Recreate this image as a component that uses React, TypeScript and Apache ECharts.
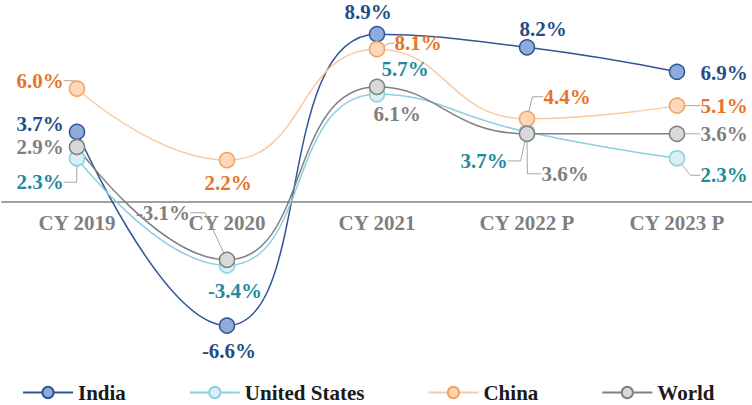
import React, { useEffect, useRef } from "react";
import * as echarts from "echarts";

const categories = ["CY 2019", "CY 2020", "CY 2021", "CY 2022 P", "CY 2023 P"];
const seriesNames = ["India", "United States", "China", "World"];
const india = [3.7, -6.6, 8.9, 8.2, 6.9];
const unitedStates = [2.3, -3.4, 5.7, 3.7, 2.3];
const china = [6.0, 2.2, 8.1, 4.4, 5.1];
const world = [2.9, -3.1, 6.1, 3.6, 3.6];

const SERIF = "'Liberation Serif', 'Times New Roman', serif";

type Cfg = {
  line: string;
  fill: string;
  border: string;
  text: string;
  off: number[][];
  guide: boolean[];
  len2: number[];
};

const styles: Cfg[] = [
  {
    line: "#2f5597",
    fill: "#8faadc",
    border: "#2f5597",
    text: "#1f4e89",
    off: [[-37, -8], [2, 25], [-9, -22], [16, -18], [47, 1]],
    guide: [false, false, false, false, false],
    len2: [0, 0, 0, 0, 0],
  },
  {
    line: "#8dd0e0",
    fill: "#d7eff6",
    border: "#8dcfdf",
    text: "#1f8a9c",
    off: [[-37, 24], [8, 26], [28, -25], [-43, 29], [47, 17]],
    guide: [true, false, false, true, true],
    len2: [13, 0, 0, 13, 10],
  },
  {
    line: "#fbcba0",
    fill: "#fdd8bd",
    border: "#f4a15c",
    text: "#e8732a",
    off: [[-37, -8], [1, 23], [41, -6], [40, -22], [47, 0]],
    guide: [true, false, true, true, true],
    len2: [10, 0, 5, 11, 8],
  },
  {
    line: "#808080",
    fill: "#d9d9d9",
    border: "#7f7f7f",
    text: "#7f7f7f",
    off: [[-37, 0], [-64, -47], [20, 27], [38, 40], [47, 0]],
    guide: [false, true, false, true, true],
    len2: [0, 15, 0, 14, 8],
  },
];

const allValues = [india, unitedStates, china, world];

function makeSeries(name: string, values: number[], cfg: Cfg) {
  return {
    name,
    type: "line",
    smooth: 0.5,
    clip: false,
    symbol: "circle",
    symbolSize: 15,
    color: cfg.fill,
    lineStyle: { color: cfg.line, width: 1.5 },
    itemStyle: { color: cfg.fill, borderColor: cfg.border, borderWidth: 1.5 },
    data: values.map((v, i) => ({
      value: v,
      labelLine: { show: cfg.guide[i], length2: cfg.len2[i] },
    })),
    label: {
      show: true,
      position: "inside",
      formatter: (p: any) => Number(p.value).toFixed(1) + "%",
      color: cfg.text,
      fontSize: 21,
      fontWeight: "bold",
      fontFamily: SERIF,
      textBorderWidth: 0,
      textBorderColor: "transparent",
    },
    labelLayout: (p: any) => ({
      dx: cfg.off[p.dataIndex][0],
      dy: cfg.off[p.dataIndex][1],
    }),
    labelLine: {
      show: false,
      lineStyle: { color: "#a6a6a6", width: 1 },
    },
    emphasis: { disabled: true },
  };
}

export default function App() {
  const ref = useRef<HTMLDivElement>(null);
  useEffect(() => {
    document.body.style.margin = "0";
    if (!ref.current) return;
    const chart = echarts.init(ref.current, undefined, { renderer: "svg" });
    chart.setOption({
      animation: false,
      backgroundColor: "#ffffff",
      grid: {
        left: 2,
        right: 0,
        top: 13.5,
        bottom: 203.5,
        containLabel: false,
        outerBoundsMode: "none",
      },
      legend: {
        data: seriesNames,
        left: 17,
        top: 377,
        itemWidth: 50,
        itemHeight: 14,
        itemGap: 63,
        textStyle: {
          fontSize: 21,
          fontWeight: "bold",
          fontFamily: SERIF,
          color: "#1a1a1a",
        },
      },
      xAxis: {
        type: "category",
        data: categories,
        axisLine: { onZero: false, lineStyle: { color: "#a0a0a0", width: 2 } },
        axisTick: { show: false },
        axisLabel: {
          color: "#7f7f7f",
          fontSize: 21,
          fontWeight: "bold",
          fontFamily: SERIF,
          margin: 11,
        },
        splitLine: { show: false },
      },
      yAxis: {
        type: "value",
        min: 0,
        max: 10,
        show: false,
        splitLine: { show: false },
      },
      series: seriesNames.map((n, i) => makeSeries(n, allValues[i], styles[i])),
    });
    return () => chart.dispose();
  }, []);
  return <div ref={ref} style={{ width: 752, height: 405 }} />;
}
